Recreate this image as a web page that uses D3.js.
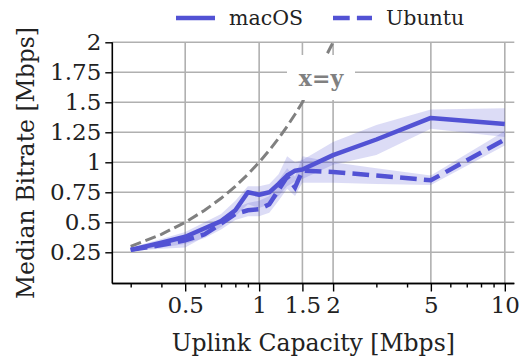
<!DOCTYPE html>
<html>
<head>
<meta charset="utf-8">
<script src="https://cdn.jsdelivr.net/npm/d3@7"></script>
<style>
  body { margin: 0; background: #fff; }
  text { font-family: "DejaVu Serif", serif; }
</style>
</head>
<body>
<div id="chart"></div>
<script>
// uplink capacity samples [Mbps]
const capacity = [0.3, 0.4, 0.5, 0.6, 0.7, 0.8, 0.9, 1.0, 1.1, 1.2, 1.3, 1.4, 1.5, 2, 3, 5, 10];

// median bitrate [Mbps] + spread band
const macosMedian = [0.27, 0.33, 0.38, 0.45, 0.51, 0.60, 0.75, 0.73, 0.75, 0.82, 0.89, 0.93, 0.94, 1.06, 1.19, 1.37, 1.32];
const macosLow    = [0.26, 0.28, 0.29, 0.38, 0.46, 0.55, 0.65, 0.62, 0.65, 0.72, 0.80, 0.84, 0.86, 0.98, 1.06, 1.28, 1.21];
const macosHigh   = [0.29, 0.36, 0.42, 0.50, 0.57, 0.68, 0.80, 0.80, 0.82, 0.90, 1.05, 1.00, 1.02, 1.17, 1.31, 1.44, 1.45];

const ubuntuMedian = [0.27, 0.31, 0.35, 0.40, 0.49, 0.57, 0.60, 0.61, 0.65, 0.77, 0.88, 0.79, 0.93, 0.92, 0.89, 0.85, 1.19];
const ubuntuLow    = [0.26, 0.29, 0.32, 0.37, 0.44, 0.52, 0.55, 0.55, 0.58, 0.68, 0.78, 0.72, 0.83, 0.83, 0.82, 0.81, 1.14];
const ubuntuHigh   = [0.28, 0.33, 0.38, 0.44, 0.53, 0.62, 0.66, 0.68, 0.72, 0.85, 0.95, 0.88, 1.05, 1.00, 0.95, 0.89, 1.26];

// x=y reference
const identityX = [0.3, 0.4, 0.5, 0.6, 0.7, 0.8, 0.9, 1.0, 1.1, 1.2, 1.3, 1.4, 1.5, 2];

const xTicks = [0.5, 1, 1.5, 2, 5, 10];
const xMinorTicks = [0.3, 0.4, 0.6, 0.7, 0.8, 0.9, 3, 4, 6, 7, 8, 9];
const yTicks = [0.25, 0.5, 0.75, 1, 1.25, 1.5, 1.75, 2];

const main_blue = "#5252d4";
const grey = "#808080";
const serif = "'DejaVu Serif', serif";

const width = 527;
const height = 360;
const plotLeft = 112.3, plotRight = 514.3, plotTop = 42.3, plotBottom = 283.5;

const svg = d3.select("#chart").append("svg").attr("width", width).attr("height", height);

const x_scale = d3.scaleLog().domain([0.2525, 10.93]).range([plotLeft, plotRight]);
const y_scale = d3.scaleLinear().domain([-0.01, 2]).range([plotBottom, plotTop]);

// grid
const grid = svg.append("g").attr("stroke", "#b0b0b0").attr("stroke-width", 1.6);
grid.selectAll(".vg").data(xTicks).enter().append("line")
    .attr("x1", d => x_scale(d)).attr("x2", d => x_scale(d))
    .attr("y1", plotTop).attr("y2", plotBottom);
grid.selectAll(".hg").data(yTicks).enter().append("line")
    .attr("y1", d => y_scale(d)).attr("y2", d => y_scale(d))
    .attr("x1", plotLeft).attr("x2", plotRight);

function series(med, lo, hi) {
    return capacity.map((c, i) => ({x: c, y: med[i], lo: lo[i], hi: hi[i]}));
}
const macos = series(macosMedian, macosLow, macosHigh);
const ubuntu = series(ubuntuMedian, ubuntuLow, ubuntuHigh);

const band = d3.area().x(d => x_scale(d.x)).y0(d => y_scale(d.lo)).y1(d => y_scale(d.hi));
const line = d3.line().x(d => x_scale(d.x)).y(d => y_scale(d.y));

[macos, ubuntu].forEach(s => {
    svg.append("path").datum(s)
        .attr("fill", main_blue).attr("fill-opacity", 0.2)
        .attr("d", band);
});

// x=y
svg.append("path")
    .datum(identityX.map(v => ({x: v, y: v})))
    .attr("fill", "none").attr("stroke", grey).attr("stroke-width", 3)
    .attr("stroke-dasharray", "11,4.8")
    .attr("d", line);

svg.append("path").datum(macos)
    .attr("fill", "none").attr("stroke", main_blue).attr("stroke-width", 4.5)
    .attr("stroke-linejoin", "round")
    .attr("d", line);

svg.append("path").datum(ubuntu)
    .attr("fill", "none").attr("stroke", main_blue).attr("stroke-width", 4.5)
    .attr("stroke-dasharray", "16.7,7.2")
    .attr("d", line);

// x=y label with white box
const lab = svg.append("g").attr("transform", "translate(321,78)");
lab.append("rect").attr("x", -34).attr("y", -23).attr("width", 68).attr("height", 45).attr("fill", "#fff");
lab.append("text").attr("text-anchor", "middle").attr("dy", "0.35em")
    .style("font-size", "22px").style("font-weight", "bold").style("font-family", serif)
    .attr("fill", grey)
    .text("x=y");

// axes
const x_axis = d3.axisBottom(x_scale).tickValues(xTicks).tickFormat(d3.format("~g"))
    .tickSize(8).tickPadding(5);
const xg = svg.append("g").attr("transform", `translate(0,${plotBottom})`).call(x_axis);
xg.append("g").call(d3.axisBottom(x_scale).tickValues(xMinorTicks).tickFormat("").tickSize(4));
xg.selectAll("path.domain").attr("d", `M${plotLeft},0H${plotRight}`);

const y_axis = d3.axisLeft(y_scale).tickValues(yTicks).tickFormat(d3.format("~g"))
    .tickSize(7).tickPadding(4);
const yg = svg.append("g").attr("transform", `translate(${plotLeft},0)`).call(y_axis);
yg.select("path.domain").attr("d", `M0,${plotTop}V${plotBottom}`);

svg.selectAll(".domain").attr("stroke", "#000").attr("stroke-width", 1.6);
svg.selectAll(".tick line").attr("stroke", "#000").attr("stroke-width", 1.4);
svg.selectAll(".tick text").style("font-size", "23px").style("font-family", serif).attr("fill", "#222");

svg.append("text")
    .attr("x", (plotLeft + plotRight) / 2).attr("y", 351)
    .attr("text-anchor", "middle").style("font-size", "23.5px").style("font-family", serif)
    .attr("fill", "#222")
    .text("Uplink Capacity [Mbps]");

svg.append("text")
    .attr("transform", "rotate(-90)")
    .attr("x", -163).attr("y", 34)
    .attr("text-anchor", "middle").style("font-size", "23.5px").style("font-family", serif)
    .attr("fill", "#222")
    .text("Median Bitrate [Mbps]");

// legend
const legendData = [
    {label: "macOS", dash: null, x: 176},
    {label: "Ubuntu", dash: "16.7,7.2", x: 333}
];
const legend = svg.append("g");
legend.selectAll("line").data(legendData).enter().append("line")
    .attr("x1", d => d.x).attr("x2", d => d.x + 39)
    .attr("y1", 18).attr("y2", 18)
    .attr("stroke", main_blue).attr("stroke-width", 4.5)
    .attr("stroke-dasharray", d => d.dash);
legend.selectAll("text").data(legendData).enter().append("text")
    .attr("x", d => d.x + 53).attr("y", 25)
    .style("font-size", "20.5px").style("font-family", serif).attr("fill", "#222")
    .text(d => d.label);
</script>
</body>
</html>
